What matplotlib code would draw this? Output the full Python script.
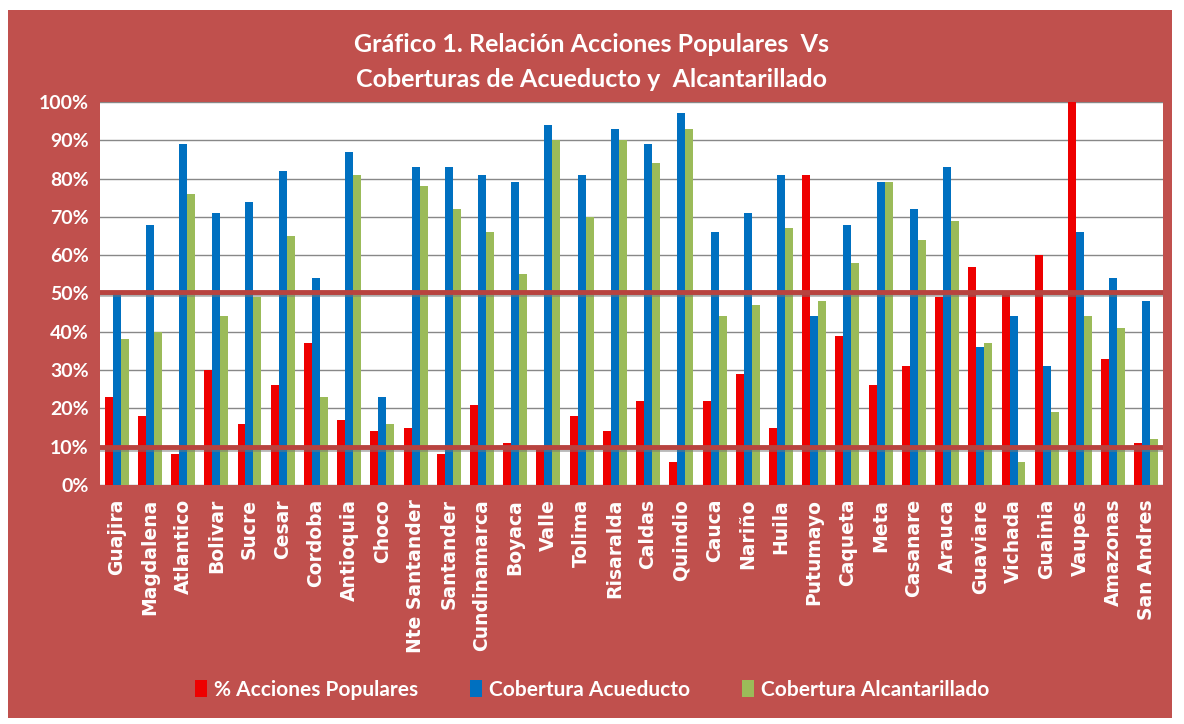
import matplotlib
matplotlib.use("Agg")
import matplotlib.pyplot as plt
import numpy as np
from matplotlib.patches import Rectangle
import matplotlib.patheffects as pe

departamentos = ["Guajira", "Magdalena", "Atlantico", "Bolivar", "Sucre", "Cesar", "Cordoba",
                 "Antioquia", "Choco", "Nte Santander", "Santander", "Cundinamarca", "Boyaca",
                 "Valle", "Tolima", "Risaralda", "Caldas", "Quindio", "Cauca", "Nariño", "Huila",
                 "Putumayo", "Caqueta", "Meta", "Casanare", "Arauca", "Guaviare", "Vichada",
                 "Guainia", "Vaupes", "Amazonas", "San Andres"]
acciones = [23, 18, 8, 30, 16, 26, 37, 17, 14, 15, 8, 21, 11, 10, 18, 14, 22, 6, 22, 29, 15,
            81, 39, 26, 31, 49, 57, 50, 60, 100, 33, 11]
acueducto = [50, 68, 89, 71, 74, 82, 54, 87, 23, 83, 83, 81, 79, 94, 81, 93, 89, 97, 66, 71, 81,
             44, 68, 79, 72, 83, 36, 44, 31, 66, 54, 48]
alcantarillado = [38, 40, 76, 44, 49, 65, 23, 81, 16, 78, 72, 66, 55, 90, 70, 90, 84, 93, 44, 47, 67,
                  48, 58, 79, 64, 69, 37, 6, 19, 44, 41, 12]
umbrales = [50.5, 10]
series_names = ["% Acciones Populares", "Cobertura Acueducto", "Cobertura Alcantarillado"]

BG = "#C0504D"
fig = plt.figure(figsize=(11.84, 7.24), dpi=100, facecolor="white")
fig.patches.append(Rectangle((8/1184, 6/724), 1164/1184, 708/724, transform=fig.transFigure,
                             facecolor=BG, edgecolor="none", zorder=-10))

ax = fig.add_axes([100/1184, 1-485/724, 1063/1184, 383/724])
ax.set_zorder(1)
ax.set_facecolor("white")
x = np.arange(len(departamentos))
w = 0.24
colors = ["#EE0000", "#0070C0", "#9BBB59"]
for i, (vals, c, name) in enumerate(zip([acciones, acueducto, alcantarillado], colors, series_names)):
    ax.bar(x + (i-1)*w, vals, width=w, color=c, label=name, zorder=3)

ax.set_ylim(0, 100)
ax.set_xlim(-0.5, len(departamentos)-0.5)
ax.set_yticks(np.arange(0, 101, 10))
ax.set_yticklabels([f"{v}%" for v in range(0, 101, 10)])
ax.yaxis.grid(True, color="#888888", linewidth=1, zorder=0)
ax.set_axisbelow(True)
for s in ax.spines.values():
    s.set_visible(False)
ax.tick_params(axis="y", length=0, colors="white", labelsize=14, pad=8)
for t in ax.get_yticklabels():
    t.set_fontweight("bold")
    t.set_family("Lato")
ax.set_xticks(x)
ax.set_xticklabels(departamentos, rotation=90, fontsize=13.5, fontweight="bold", color="white",
                   family="DejaVu Sans")
ax.tick_params(axis="x", length=0, pad=10)

for u in umbrales:
    ax.axhline(u, color="#B8433F", linewidth=3.5, zorder=5,
               path_effects=[pe.SimpleLineShadow(offset=(0, -2), shadow_color="#777777", alpha=0.5), pe.Normal()])

fig.text(0.5, 0.938, "Gráfico 1. Relación Acciones Populares  Vs", ha="center", va="center",
         color="white", fontsize=18, fontweight="bold", family="Lato")
fig.text(0.5, 0.890, "Coberturas de Acueducto y  Alcantarillado", ha="center", va="center",
         color="white", fontsize=18, fontweight="bold", family="Lato")

leg = fig.legend(loc="center", bbox_to_anchor=(0.5, 1-690/724), ncol=3, frameon=False,
                 handlelength=0.6, handleheight=0.9, handletextpad=0.3, columnspacing=2.5,
                 prop={"family": "Lato", "size": 15, "weight": "bold"})
for t in leg.get_texts():
    t.set_color("white")

fig.savefig("out.png", dpi=100, facecolor=fig.get_facecolor())
